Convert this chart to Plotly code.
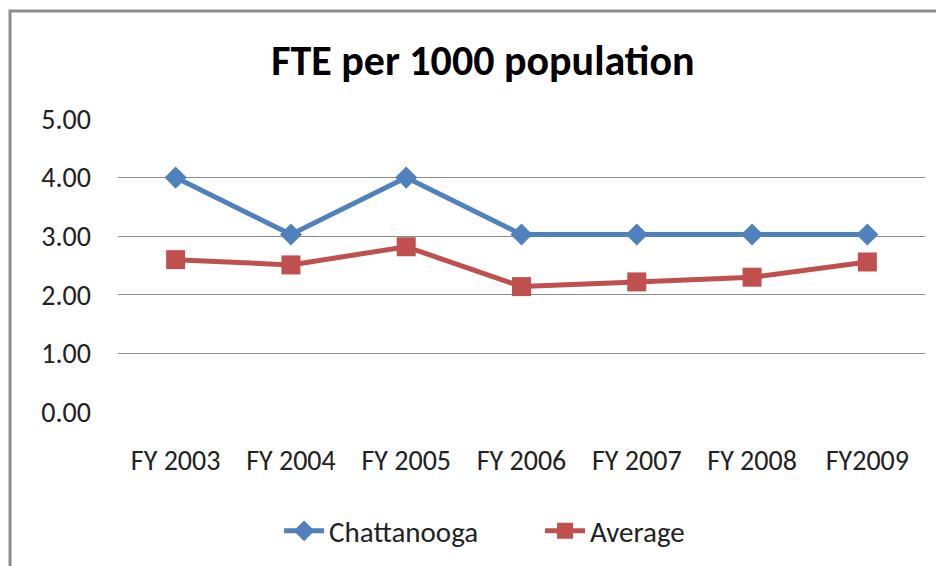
import plotly.graph_objects as go

# FTE per 1000 population, Chattanooga vs average
years = ["FY 2003", "FY 2004", "FY 2005", "FY 2006", "FY 2007", "FY 2008", "FY2009"]
chattanooga = [4.00, 3.03, 4.00, 3.03, 3.03, 3.03, 3.03]
average = [2.60, 2.51, 2.82, 2.14, 2.22, 2.30, 2.56]
y_ticks = [0, 1, 2, 3, 4, 5]

font_family = "Carlito, Calibri, 'Liberation Sans Narrow', 'Open Sans', sans-serif"

traces = [
    go.Scatter(x=years, y=chattanooga, name="Chattanooga", mode="lines+markers",
               line=dict(color="#4F81BD", width=5),
               marker=dict(symbol="diamond", size=17, color="#4F81BD")),
    go.Scatter(x=years, y=average, name="Average", mode="lines+markers",
               line=dict(color="#C0504D", width=5),
               marker=dict(symbol="square", size=19, color="#C0504D")),
]

# page body adds an 8px offset, margins are set to account for it
layout = go.Layout(
    width=944, height=566,
    paper_bgcolor="white", plot_bgcolor="white",
    font=dict(family=font_family, size=28, color="#222"),
    margin=dict(l=110, r=27, t=111, b=162, pad=0),
    title=dict(text="<b>FTE per 1000 population</b>", x=0.503, xanchor="center",
               y=0.908, yanchor="middle", font=dict(size=42, color="black")),
    xaxis=dict(range=[-0.5, 6.5], showgrid=False, showline=False, ticks="",
               ticklabelstandoff=29, tickfont=dict(size=28)),
    yaxis=dict(range=[0, 5], tickvals=y_ticks, tickformat=".2f", showgrid=True,
               gridcolor="#8c8c8c", gridwidth=1, zeroline=False, showline=False,
               ticks="", ticklabelstandoff=26, tickfont=dict(size=28)),
    legend=dict(orientation="h", x=0.523, xanchor="center", y=-0.406, yanchor="middle",
                font=dict(size=29), entrywidth=206, itemwidth=40),
    shapes=[dict(type="rect", xref="paper", yref="paper", x0=-0.1338, y0=-1.0,
                 x1=1.2, y1=1.3686, line=dict(color="#8c8c8c", width=3))],
)

fig = go.Figure(traces, layout)
fig.write_html("out.html")
